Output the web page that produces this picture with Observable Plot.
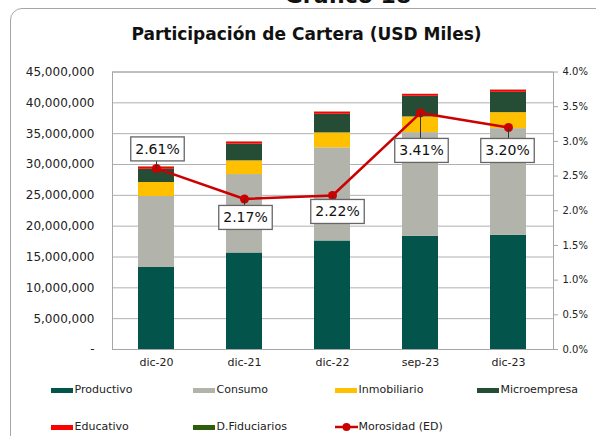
<!DOCTYPE html>
<html><head><meta charset="utf-8">
<script src="https://cdn.jsdelivr.net/npm/d3@7"></script>
<script src="https://cdn.jsdelivr.net/npm/@observablehq/plot@0.6"></script>
<style>
body{margin:0;background:#fff;font-family:"DejaVu Sans",sans-serif;color:#222;}
#wrap{position:relative;width:596px;height:436px;overflow:hidden;background:#fff;}
#frame{position:absolute;left:10px;top:8px;width:700px;height:600px;border:1.5px solid #a6a6a6;border-radius:12px;}
#top{position:absolute;left:0;width:696px;top:-15px;text-align:center;font-weight:bold;font-size:22px;line-height:22px;color:#111;}
#title{position:absolute;left:0;width:613px;top:26px;text-align:center;font-weight:bold;font-size:17px;line-height:17px;color:#111;}
#plot{position:absolute;left:0;top:0;}
.lg{position:absolute;font-size:11px;line-height:11px;color:#222;white-space:nowrap;}
.sw{position:absolute;width:22px;height:5px;}
</style></head>
<body><div id="wrap"><div id="frame"></div><div id="top">Gráfico 18</div><div id="title">Participación de Cartera (USD Miles)</div><div id="plot"></div><div id="legend"></div></div>
<script>
const fechas = ["dic-20","dic-21","dic-22","sep-23","dic-23"];
const series = ["Productivo","Consumo","Inmobiliario","Microempresa","Educativo","D.Fiduciarios"];
const productivo   = [13300000, 15650000, 17600000, 18350000, 18500000];
const consumo      = [11510000, 12720000, 15100000, 16820000, 17320000];
const inmobiliario = [2270000, 2220000, 2420000, 2540000, 2590000];
const microempresa = [2140000, 2710000, 3030000, 3360000, 3300000];
const educativo    = [360000, 340000, 340000, 290000, 340000];
const fiduciarios  = [40000, 30000, 30000, 30000, 30000];
const morosidad    = [2.61, 2.17, 2.22, 3.41, 3.20];
const ticksMonto = [0, 5e6, 10e6, 15e6, 20e6, 25e6, 30e6, 35e6, 40e6, 45e6];
const ticksPct = [0, 0.5, 1, 1.5, 2, 2.5, 3, 3.5, 4];
const colores = ["#03544a","#b2b3aa","#ffc000","#254d36","#ff0000","#2e5d0c"];
const rojo = "#cc0000";

const valores = [productivo, consumo, inmobiliario, microempresa, educativo, fiduciarios];
const barras = [];
series.forEach((s, j) => fechas.forEach((f, i) => barras.push({fecha: f, serie: s, valor: valores[j][i]})));
const YMAX = 45e6, PMAX = 4;
const moro = fechas.map((f, i) => ({fecha: f, v: morosidad[i], y: morosidad[i] / PMAX * YMAX}));
const fmtMonto = d => d === 0 ? "-" : d3.format(",")(d);
const offs = [[1, -19], [1, 19], [5, 16.5], [1, 38], [-1, 23.5]];

const chart = Plot.plot({
  width: 596, height: 436,
  marginTop: 71.5, marginBottom: 87, marginLeft: 112, marginRight: 43,
  style: {background: "none", fontFamily: "DejaVu Sans", color: "#222"},
  x: {domain: fechas, paddingInner: 0.59, paddingOuter: 0.295, label: null},
  y: {domain: [0, YMAX], label: null},
  color: {domain: series, range: colores},
  marks: [
    Plot.gridY(ticksMonto, {stroke: "#b0b0b0", strokeOpacity: 1}),
    Plot.barY(barras, {x: "fecha", y: "valor", fill: "serie", order: series}),
    Plot.frame({stroke: "#a6a6a6"}),
    Plot.axisY(ticksMonto, {anchor: "left", tickSize: 0, tickPadding: 18, fontSize: 12, tickFormat: fmtMonto, label: null}),
    Plot.axisY(ticksPct.map(p => p / PMAX * YMAX), {anchor: "right", tickSize: 4, tickPadding: 5, fontSize: 10, stroke: "#a6a6a6", tickFormat: d => (d / YMAX * PMAX).toFixed(1) + "%", label: null}),
    Plot.axisX({tickSize: 0, tickPadding: 9, fontSize: 11, label: null}),
    Plot.line(moro, {x: "fecha", y: "y", stroke: rojo, strokeWidth: 2.5}),
    Plot.dot(moro, {x: "fecha", y: "y", r: 4.5, fill: rojo}),
    ...moro.map((d, i) => Plot.text([d], {x: "fecha", y: "y", text: e => e.v.toFixed(2) + "%", dx: offs[i][0], dy: offs[i][1], fontSize: 14, fill: "#111"}))
  ]
});
document.getElementById("plot").append(chart);

// boxes and leader lines around data labels
const sr = chart.getBoundingClientRect();
const gs = Array.from(chart.children).filter(n => n.tagName.toLowerCase() === "g");
const labelGs = gs.slice(-moro.length);
const dotG = gs[gs.length - moro.length - 1];
const boxes = document.createElementNS("http://www.w3.org/2000/svg", "g");
chart.insertBefore(boxes, labelGs[0]);
const dots = Array.from(dotG.querySelectorAll("circle, path")).map(c => {
  const r = c.getBoundingClientRect();
  return {x: (r.left + r.right) / 2 - sr.left, y: (r.top + r.bottom) / 2 - sr.top};
});
const bg = d3.select(boxes);
labelGs.forEach(g => g.querySelectorAll("text").forEach(node => {
  const r = node.getBoundingClientRect();
  const x0 = r.left - sr.left - 4.5, x1 = r.right - sr.left + 4.5;
  const y0 = r.top - sr.top - 4, y1 = r.bottom - sr.top + 4;
  const cx = (x0 + x1) / 2;
  let best = dots[0];
  dots.forEach(p => { if (Math.abs(p.x - cx) < Math.abs(best.x - cx)) best = p; });
  const ey = best.y < y0 ? y0 : y1;
  bg.append("line").attr("x1", best.x).attr("y1", best.y).attr("x2", Math.max(x0, Math.min(x1, best.x))).attr("y2", ey).attr("stroke", "#333").attr("stroke-width", 1);
  bg.append("rect").attr("x", x0).attr("y", y0).attr("width", x1 - x0).attr("height", y1 - y0).attr("fill", "#fff").attr("stroke", "#666").attr("stroke-width", 1.3);
}));

// legend
const lg = document.getElementById("legend");
const items = series.map((s, i) => ({name: s, color: colores[i]})).concat([{name: "Morosidad (ED)", color: rojo, line: true}]);
items.forEach((it, i) => {
  const col = i % 4, row = Math.floor(i / 4);
  const x = 51 + col * 142, yc = row === 0 ? 390 : 427;
  if (it.line) {
    const s = document.createElementNS("http://www.w3.org/2000/svg", "svg");
    s.setAttribute("width", 24); s.setAttribute("height", 10);
    s.style.position = "absolute"; s.style.left = x + "px"; s.style.top = (yc - 5) + "px";
    s.innerHTML = `<line x1="0" y1="5" x2="23" y2="5" stroke="${it.color}" stroke-width="2.5"/><circle cx="11.5" cy="5" r="4" fill="${it.color}"/>`;
    lg.append(s);
  } else {
    const sw = document.createElement("div");
    sw.className = "sw"; sw.style.left = x + "px"; sw.style.top = (yc - 2.5) + "px"; sw.style.background = it.color;
    lg.append(sw);
  }
  const t = document.createElement("div");
  t.className = "lg"; t.textContent = it.name;
  t.style.left = (x + 23.5) + "px"; t.style.top = (yc - 6) + "px";
  lg.append(t);
});
</script></body></html>
